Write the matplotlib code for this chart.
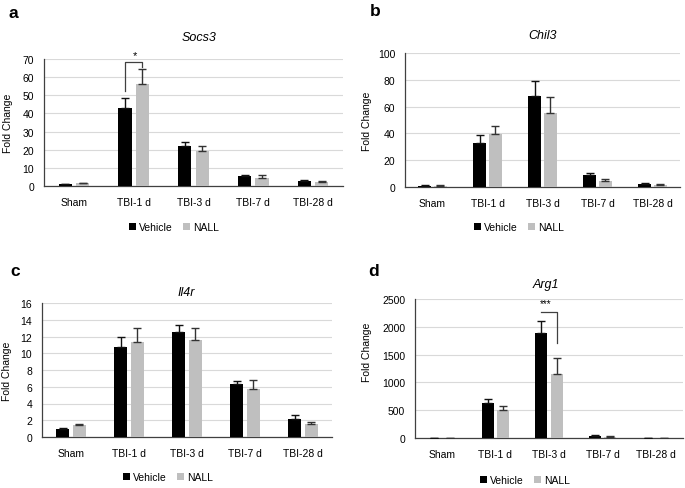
import matplotlib
matplotlib.use("Agg")
import matplotlib.pyplot as plt
import numpy as np

plt.rcParams['font.family'] = ['Liberation Sans', 'DejaVu Sans']

categories = ["Sham", "TBI-1 d", "TBI-3 d", "TBI-7 d", "TBI-28 d"]
series_names = ["Vehicle", "NALL"]

socs3_vehicle = [1.0, 42.9, 21.9, 5.6, 2.9]
socs3_vehicle_err = [0.3, 5.7, 2.2, 0.6, 0.5]
socs3_nall = [1.4, 56.2, 19.3, 4.6, 2.2]
socs3_nall_err = [0.4, 8.2, 2.8, 1.3, 0.4]

chil3_vehicle = [1.0, 32.5, 68.0, 8.8, 2.3]
chil3_vehicle_err = [0.6, 6.5, 11.3, 1.7, 0.5]
chil3_nall = [0.8, 39.8, 55.5, 4.5, 1.5]
chil3_nall_err = [0.5, 6.0, 12.0, 1.8, 0.5]

il4r_vehicle = [1.0, 10.8, 12.5, 6.36, 2.12]
il4r_vehicle_err = [0.08, 1.16, 0.88, 0.32, 0.56]
il4r_nall = [1.44, 11.4, 11.56, 5.76, 1.56]
il4r_nall_err = [0.08, 1.56, 1.4, 1.0, 0.28]

arg1_vehicle = [3, 622, 1884, 42, 3]
arg1_vehicle_err = [1, 72, 227, 18, 1]
arg1_nall = [3, 496, 1160, 24, 3]
arg1_nall_err = [1, 78, 287, 6, 1]

W, H = 685, 489
fig = plt.figure(figsize=(W / 100, H / 100), dpi=100)

VEH_C = "#000000"
NALL_C = "#BFBFBF"
GRID_C = "#D9D9D9"


def rect(l, r, t, b):
    return [l / W, 1 - b / H, (r - l) / W, (b - t) / H]


panels = [
    dict(letter="a", title="Socs3", rect=rect(44, 343, 60, 187), ymax=70, step=10,
         veh=socs3_vehicle, veherr=socs3_vehicle_err, nall=socs3_nall, nallerr=socs3_nall_err,
         letter_xy=(13, 14), title_xy=(199, 38), ylab_xy=(8, 123), leg_xy=(174, 228)),
    dict(letter="b", title="Chil3", rect=rect(405, 680, 54, 188), ymax=100, step=20,
         veh=chil3_vehicle, veherr=chil3_vehicle_err, nall=chil3_nall, nallerr=chil3_nall_err,
         letter_xy=(375, 12), title_xy=(543, 36), ylab_xy=(367, 121), leg_xy=(519, 228)),
    dict(letter="c", title="Il4r", rect=rect(42, 332, 304, 438), ymax=16, step=2,
         veh=il4r_vehicle, veherr=il4r_vehicle_err, nall=il4r_nall, nallerr=il4r_nall_err,
         letter_xy=(15, 272), title_xy=(186, 293), ylab_xy=(7, 371), leg_xy=(168, 478)),
    dict(letter="d", title="Arg1", rect=rect(415, 683, 300, 439), ymax=2500, step=500,
         veh=arg1_vehicle, veherr=arg1_vehicle_err, nall=arg1_nall, nallerr=arg1_nall_err,
         letter_xy=(374, 272), title_xy=(546, 285), ylab_xy=(367, 352), leg_xy=(525, 481)),
]

x = np.arange(len(categories))
bw = 0.22
off = 0.145
axes = []
for p in panels:
    ax = fig.add_axes(p["rect"])
    axes.append(ax)
    veh = np.array(p["veh"]); nall = np.array(p["nall"])
    ax.bar(x - off, veh, bw, color=VEH_C, zorder=3, label=series_names[0])
    ax.bar(x + off, nall, bw, color=NALL_C, zorder=3, label=series_names[1])
    ax.errorbar(x - off, veh, yerr=[np.zeros_like(veh), p["veherr"]], fmt="none",
                ecolor="#111111", elinewidth=1.0, capsize=3, capthick=1.0, zorder=4)
    ax.errorbar(x + off, nall, yerr=[np.zeros_like(nall), p["nallerr"]], fmt="none",
                ecolor="#333333", elinewidth=1.0, capsize=3, capthick=1.0, zorder=4)
    ax.set_xlim(-0.5, len(categories) - 0.5)
    ax.set_ylim(0, p["ymax"])
    ax.set_yticks(np.arange(0, p["ymax"] + p["step"] / 2, p["step"]))
    ax.set_xticks(x)
    ax.set_xticklabels(categories)
    ax.tick_params(axis="both", length=0, labelsize=7.5, colors="#000000")
    ax.tick_params(axis="y", pad=7)
    ax.tick_params(axis="x", pad=8)
    ax.yaxis.grid(True, color=GRID_C, linewidth=0.8, zorder=0)
    ax.set_axisbelow(True)
    for s in ["top", "right"]:
        ax.spines[s].set_visible(False)
    ax.spines["left"].set_color("#404040")
    ax.spines["bottom"].set_color("#404040")
    ax.spines["left"].set_linewidth(0.9)
    ax.spines["bottom"].set_linewidth(0.9)

    fig.text(p["letter_xy"][0] / W, 1 - p["letter_xy"][1] / H, p["letter"],
             fontsize=12.5, fontweight="bold", ha="center", va="center")
    fig.text(p["title_xy"][0] / W, 1 - p["title_xy"][1] / H, p["title"],
             fontsize=9, fontstyle="italic", ha="center", va="center")
    fig.text(p["ylab_xy"][0] / W, 1 - p["ylab_xy"][1] / H, "Fold Change",
             fontsize=7.5, rotation=90, ha="center", va="center")
    handles, labels = ax.get_legend_handles_labels()
    fig.legend(handles, labels, loc="center",
               bbox_to_anchor=(p["leg_xy"][0] / W, 1 - p["leg_xy"][1] / H),
               ncol=2, frameon=False, fontsize=7.5, handlelength=0.7, handleheight=0.7,
               handletextpad=0.3, columnspacing=1.0, borderaxespad=0)

# significance brackets
ax = axes[0]
ax.plot([1 - off, 1 - off, 1 + off, 1 + off], [52.4, 68.3, 68.3, 65.5],
        color="#404040", lw=0.9, clip_on=False, zorder=5)
ax.text(1 + 0.02, 69.5, "*", ha="center", va="bottom", fontsize=8, clip_on=False)

ax = axes[3]
ax.plot([2 - off, 2 + off, 2 + off], [2272, 2272, 1709],
        color="#404040", lw=0.9, clip_on=False, zorder=5)
ax.text(2 - 0.06, 2330, "***", ha="center", va="bottom", fontsize=7, clip_on=False)

fig.savefig("out.png", dpi=100)
